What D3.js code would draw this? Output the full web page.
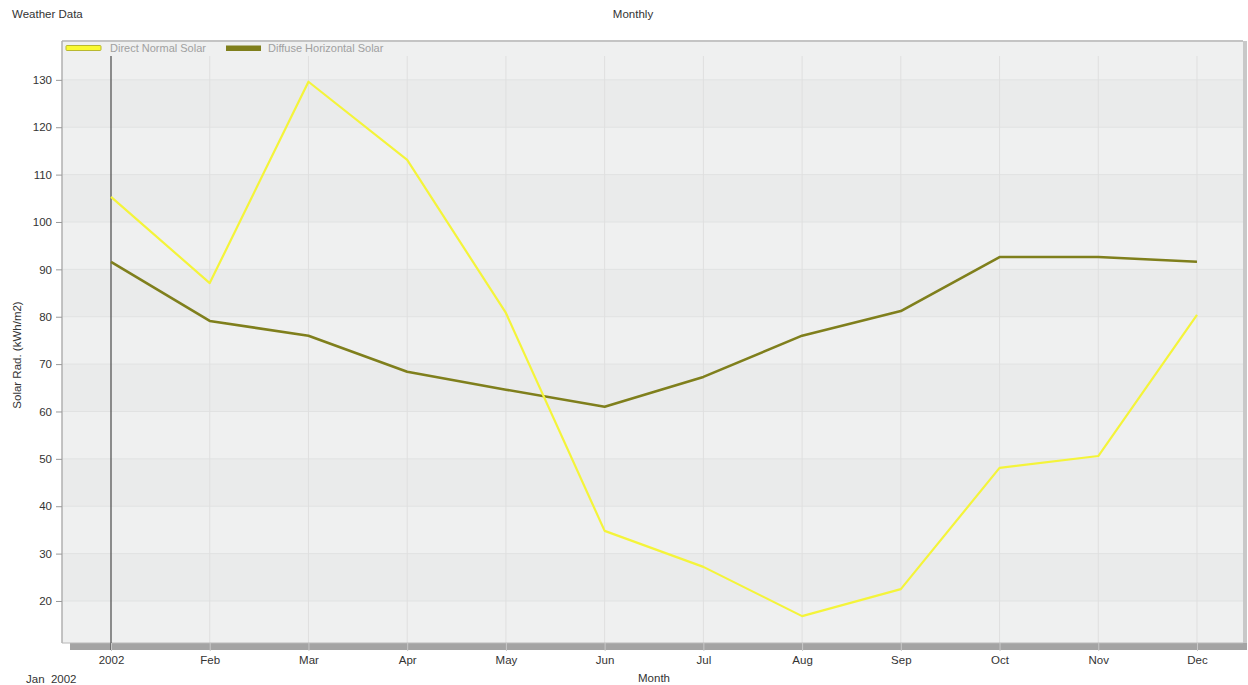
<!DOCTYPE html>
<html><head><meta charset="utf-8">
<script src="https://cdn.jsdelivr.net/npm/d3@7"></script>
<style>
body{margin:0;background:#fff;}
text{font-family:"Liberation Sans",Arial,sans-serif;}
</style></head>
<body><svg id="c" width="1248" height="685"></svg>
<script>
const months = ["2002","Feb","Mar","Apr","May","Jun","Jul","Aug","Sep","Oct","Nov","Dec"];
const directNormal = [105.3,87.1,129.6,113.1,80.8,34.8,27.2,16.8,22.5,48.1,50.6,80.4];
const diffuseHorizontal = [91.6,79.1,76.0,68.4,64.6,61.0,67.3,76.0,81.2,92.6,92.6,91.6];
const yTicks = [20,30,40,50,60,70,80,90,100,110,120,130];
const seriesNames = ["Direct Normal Solar","Diffuse Horizontal Solar"];
const seriesColors = ["#f4f43a","#7f7f1c"];

const svg = d3.select("#c");
const L=62, T=41, R=1243, B=643;
const x = d3.scalePoint().domain(months).range([111,1197]);
const y = d3.scaleLinear().domain([11.13,138.2]).range([B,T]);

// plot background
svg.append("rect").attr("x",L).attr("y",T).attr("width",R-L).attr("height",B-T).attr("fill","#eeefef");
// alternating bands
const bandEdges=[T,...yTicks.slice().reverse().map(v=>y(v)),B];
for(let i=0;i<bandEdges.length-1;i++){
  svg.append("rect").attr("x",L).attr("y",bandEdges[i]).attr("width",R-L)
    .attr("height",bandEdges[i+1]-bandEdges[i]).attr("fill",i%2===0?"#eff0f0":"#eaebeb");
}
// horizontal grid
svg.selectAll(".hg").data(yTicks).enter().append("line")
  .attr("x1",L).attr("x2",R).attr("y1",d=>y(d)).attr("y2",d=>y(d))
  .attr("stroke","#e1e2e2").attr("stroke-width",1);
// vertical grid
svg.selectAll(".vg").data(months.slice(1)).enter().append("line")
  .attr("x1",d=>x(d)).attr("x2",d=>x(d)).attr("y1",56).attr("y2",B)
  .attr("stroke","#dfdfdf").attr("stroke-width",1);
// border
svg.append("line").attr("x1",L).attr("x2",R).attr("y1",T).attr("y2",T).attr("stroke","#c4c4c4").attr("stroke-width",2);
svg.append("line").attr("x1",L).attr("x2",L).attr("y1",T).attr("y2",B).attr("stroke","#b0b0b0").attr("stroke-width",1.5);
svg.append("rect").attr("x",R).attr("y",T).attr("width",4).attr("height",B-T+7).attr("fill","#c8c8c8");
// bottom shadow bar
svg.append("rect").attr("x",L+8).attr("y",B).attr("width",R-L-4).attr("height",7).attr("fill","#a4a4a4");
svg.append("line").attr("x1",L).attr("x2",R).attr("y1",B).attr("y2",B).attr("stroke","#b8b8b8");

// Jan marker line
svg.append("line").attr("x1",x(months[0])).attr("x2",x(months[0])).attr("y1",56).attr("y2",B+7)
  .attr("stroke","#555").attr("stroke-width",1.3);

// y axis
const ya = svg.append("g").attr("transform",`translate(${L},0)`)
  .call(d3.axisLeft(y).tickValues(yTicks).tickSize(6).tickPadding(4));
ya.select(".domain").remove();
ya.selectAll("line").attr("stroke","#999");
ya.selectAll("text").attr("fill","#333").attr("font-size",11.5).attr("font-family","Liberation Sans, Arial, sans-serif");
// x axis
const xa = svg.append("g").attr("transform",`translate(0,${B})`)
  .call(d3.axisBottom(x).tickSize(8).tickPadding(5));
xa.select(".domain").remove();
xa.selectAll("line").attr("stroke","#c8c8c8");
xa.selectAll("text").attr("fill","#333").attr("font-size",11.5).attr("font-family","Liberation Sans, Arial, sans-serif");

// lines
const line = d3.line().x((d,i)=>x(months[i])).y(d=>y(d));
svg.append("path").datum(diffuseHorizontal).attr("d",line).attr("fill","none")
  .attr("stroke",seriesColors[1]).attr("stroke-width",2.6).attr("stroke-linejoin","round");
svg.append("path").datum(directNormal).attr("d",line).attr("fill","none")
  .attr("stroke",seriesColors[0]).attr("stroke-width",2.2).attr("stroke-linejoin","round");

// legend
const lg=[{x:66,tx:110},{x:226,tx:268}];
seriesNames.forEach((n,i)=>{
  if(i===0){
    svg.append("rect").attr("x",lg[i].x).attr("y",45.5).attr("width",35).attr("height",5)
      .attr("fill","#fafa30").attr("stroke","#b8b830").attr("stroke-width",1).attr("rx",1);
  } else {
    svg.append("rect").attr("x",lg[i].x).attr("y",45.5).attr("width",35).attr("height",5.5)
      .attr("fill",seriesColors[1]);
  }
  svg.append("text").attr("x",lg[i].tx).attr("y",52).attr("font-size",11).attr("fill","#a0a0a0").text(n);
});

// titles
svg.append("text").attr("x",12).attr("y",18).attr("font-size",11.5).attr("fill","#333").text("Weather Data");
svg.append("text").attr("x",633).attr("y",18).attr("font-size",11.5).attr("fill","#333").attr("text-anchor","middle").text("Monthly");
svg.append("text").attr("transform","translate(21,355) rotate(-90)").attr("font-size",11.5).attr("fill","#333")
  .attr("text-anchor","middle").text("Solar Rad. (kWh/m2)");
svg.append("text").attr("x",654).attr("y",682).attr("font-size",11.5).attr("fill","#333").attr("text-anchor","middle").text("Month");
svg.append("text").attr("x",26).attr("y",683).attr("font-size",11.5).attr("fill","#333").text("Jan  2002").attr("xml:space","preserve").style("white-space","pre");
</script></body></html>
